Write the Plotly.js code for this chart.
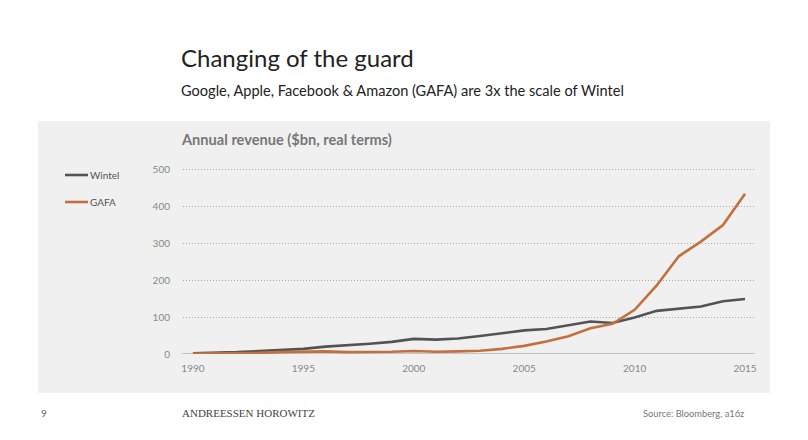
<!DOCTYPE html>
<html>
<head>
<meta charset="utf-8">
<script src="https://cdn.plot.ly/plotly-3.0.1.min.js"></script>
<style>html,body{margin:0;padding:0;background:#fff;}#chart{width:808px;height:440px;}</style>
</head>
<body>
<div id="chart"></div>
<script>
const years = [1990,1991,1992,1993,1994,1995,1996,1997,1998,1999,2000,2001,2002,2003,2004,2005,2006,2007,2008,2009,2010,2011,2012,2013,2014,2015];
const wintel = [2,3,5,8,10,14,20,25,28,33,41,39,42,49,57,64,68,78,88,84,99,117,123,129,143,149];
const gafa = [1,1,2,3,5,6,7,5,5,6,8,6,7,9,14,22,34,48,70,82,120,186,265,305,350,435];
const seriesNames = ["Wintel","GAFA"];
const seriesColors = ["#535353","#c2703d"];
const xTicks = [1990,1995,2000,2005,2010,2015];
const yTicks = [0,100,200,300,400,500];

const FONT = "Lato, 'Open Sans', sans-serif";
const PL = 183, PR = 755, PT = 166, PB = 354;
const W = PR-PL, H = PB-PT;
const px = x => (x-PL)/W;
const py = y => (PB-y)/H;

const traces = [
  {x: years, y: wintel, name: seriesNames[0], type:'scatter', mode:'lines',
   line:{color:seriesColors[0], width:2.6}},
  {x: years, y: gafa, name: seriesNames[1], type:'scatter', mode:'lines',
   line:{color:seriesColors[1], width:2.6}}
];

// manual legend (short swatches like the reference)
const legendY = [175, 202];
const legendShapes = seriesNames.map((n,i) => ({type:'line', xref:'paper', yref:'paper',
  x0:px(65), x1:px(88), y0:py(legendY[i]), y1:py(legendY[i]),
  line:{color:seriesColors[i], width:2.6}}));
const legendAnn = seriesNames.map((n,i) => ({text:n, xref:'paper', yref:'paper',
  x:px(88), y:py(legendY[i]), xanchor:'left', yanchor:'middle', showarrow:false,
  font:{family:FONT, size:10, color:'#555'}}));

const layout = {
  width:808, height:440,
  margin:{l:PL, r:808-PR, t:PT, b:440-PB, pad:0},
  paper_bgcolor:'#ffffff', plot_bgcolor:'rgba(0,0,0,0)',
  font:{family:FONT, color:'#888', size:10},
  showlegend:false,
  xaxis:{range:[1989.55,2015.45], tickvals:xTicks, ticktext:xTicks.map(String),
    showgrid:false, zeroline:false, showline:false, ticks:'outside', ticklen:5,
    tickcolor:'rgba(0,0,0,0)', tickfont:{family:FONT, size:10, color:'#888'}, fixedrange:true},
  yaxis:{range:[0,510], tickvals:yTicks, showgrid:true, gridcolor:'#a8a8a8', griddash:'1px,2px',
    gridwidth:1, zeroline:false, showline:false, ticks:'outside', ticklen:10,
    tickcolor:'rgba(0,0,0,0)', tickfont:{family:FONT, size:10, color:'#888'}, fixedrange:true},
  shapes:[
    {type:'rect', xref:'paper', yref:'paper', x0:px(38), x1:px(770), y0:py(393), y1:py(121),
     fillcolor:'#f0f0f0', line:{width:0}, layer:'below'},
    {type:'line', xref:'paper', yref:'y', x0:px(182), x1:px(755), y0:0, y1:0,
     line:{color:'#9a9a9a', width:1}, layer:'below'}
  ].concat(legendShapes),
  annotations:[
    {text:'Changing of the guard', xref:'paper', yref:'paper', x:px(179), y:py(57),
     xanchor:'left', yanchor:'middle', showarrow:false, font:{family:FONT, size:24, color:'#222'}},
    {text:'Google, Apple, Facebook &amp; Amazon (GAFA) are 3x the scale of Wintel', xref:'paper', yref:'paper',
     x:px(179), y:py(91), xanchor:'left', yanchor:'middle', showarrow:false, font:{family:FONT, size:14.6, color:'#222'}},
    {text:'<b>Annual revenue ($bn, real terms)</b>', xref:'paper', yref:'paper', x:px(179), y:py(139),
     xanchor:'left', yanchor:'middle', showarrow:false, font:{family:FONT, size:14.6, color:'#777'}},
    {text:'9', xref:'paper', yref:'paper', x:px(39), y:py(413), xanchor:'left', yanchor:'middle',
     showarrow:false, font:{family:FONT, size:10, color:'#666'}},
    {text:'ANDREESSEN HOROWITZ', xref:'paper', yref:'paper', x:px(180), y:py(413), xanchor:'left', yanchor:'middle',
     showarrow:false, font:{family:"'Liberation Serif', 'DejaVu Serif', serif", size:11, color:'#444'}},
    {text:'Source: Bloomberg, a16z', xref:'paper', yref:'paper', x:px(746), y:py(413), xanchor:'right', yanchor:'middle',
     showarrow:false, font:{family:FONT, size:9.3, color:'#777'}}
  ].concat(legendAnn)
};

Plotly.newPlot('chart', traces, layout, {displayModeBar:false, staticPlot:true});
</script>
</body>
</html>
